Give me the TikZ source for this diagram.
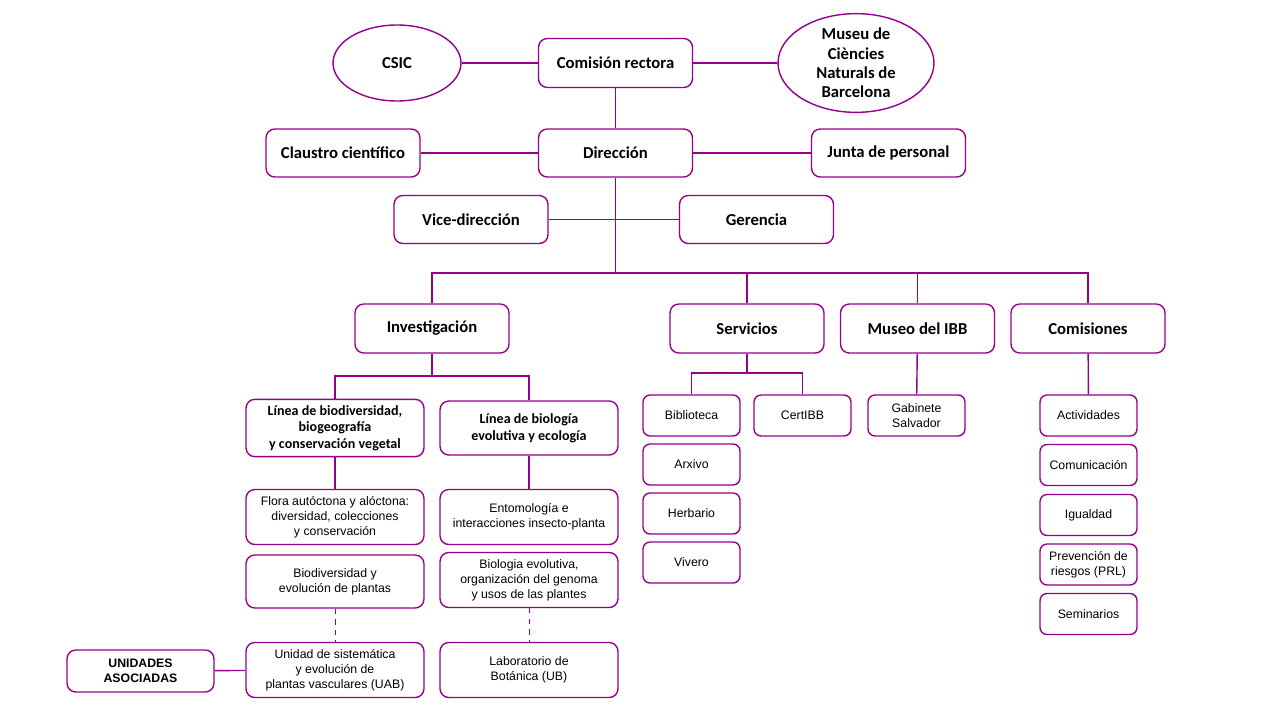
\documentclass[tikz,border=0pt]{standalone}
\usepackage{fontspec}
\setmainfont{Carlito}
\newfontfamily\arialf{Liberation Sans}
\usetikzlibrary{shapes.geometric}
\definecolor{ibbpurple}{RGB}{150,0,140}
\tikzset{
  main/.style={draw=ibbpurple,thick,rounded corners=5pt,fill=white,minimum width=3.08cm,minimum height=0.98cm,font=\fontsize{9.5}{11}\selectfont\bfseries,align=center},
  lbox/.style={draw=ibbpurple,thick,rounded corners=5pt,fill=white,minimum width=3.56cm,minimum height=1.1cm,font=\arialf\fontsize{7}{8.5}\selectfont,align=center},
  sbox/.style={draw=ibbpurple,thick,rounded corners=4pt,fill=white,minimum width=1.94cm,minimum height=0.82cm,font=\arialf\fontsize{7}{8.5}\selectfont,align=center},
  oval/.style={draw=ibbpurple,thick,ellipse,fill=white,font=\fontsize{9.5}{11}\selectfont\bfseries,align=center,inner sep=0pt},
  conn/.style={draw=ibbpurple,thick}
}
\begin{document}
\begin{tikzpicture}[x=0.02cm,y=-0.02cm]
\useasboundingbox (0,0) rectangle (1280,720);
% top levels
\node[oval,minimum width=2.56cm,minimum height=1.52cm] (csic) at (397,63) {CSIC};
\node[main] (comision) at (615.5,63) {Comisión rectora};
\node[oval,minimum width=3.12cm,minimum height=1.84cm] (museu) at (856,63) {Museu de\\Ciències\\Naturals de\\Barcelona};
\node[main,minimum height=0.96cm] (claustro) at (343,153) {Claustro científico};
\node[main,minimum height=0.96cm] (direccion) at (615.5,153) {Dirección};
\node[main,minimum height=0.96cm] (junta) at (888.5,153) {Junta de personal};
\node[main,minimum height=0.96cm] (vice) at (471,219.5) {Vice-dirección};
\node[main,minimum height=0.96cm] (gerencia) at (756.5,219.5) {Gerencia};
\draw[conn] (csic) -- (comision) -- (museu);
\draw[conn] (claustro) -- (direccion) -- (junta);
\draw[conn] (comision) -- (direccion);
\draw[conn] (vice) -- (gerencia);
% second level
\node[main] (invest) at (432,328.5) {Investigación};
\node[main] (servicios) at (747,328.5) {Servicios};
\node[main] (museo) at (917.5,328.5) {Museo del IBB};
\node[main] (comisiones) at (1088,328.5) {Comisiones};
\coordinate (bus) at (615.5,273);
\draw[conn] (direccion) -- (bus);
\draw[conn] (invest) |- (bus) -| (comisiones);
\draw[conn] (servicios) |- (bus);
\draw[conn] (museo) |- (bus);
% research lines
\node[main,minimum width=3.56cm,minimum height=1.08cm,font=\fontsize{8}{9.5}\selectfont\bfseries] (linea1) at (335,428) {Línea de biodiversidad,\\biogeografía\\y conservación vegetal};
\node[main,minimum width=3.56cm,minimum height=1.08cm,font=\fontsize{8}{9.5}\selectfont\bfseries] (linea2) at (529,428) {Línea de biología\\evolutiva y ecología};
\coordinate (ibus) at (432,376);
\draw[conn] (invest) -- (ibus);
\draw[conn] (linea1) |- (ibus) -| (linea2);
\node[lbox] (flora) at (335,517) {Flora autóctona y alóctona:\\diversidad, colecciones\\y conservación};
\node[lbox,minimum height=1.06cm] (biodiv) at (335,581.5) {Biodiversidad y\\evolución de plantas};
\node[lbox] (unidad) at (335,670) {Unidad de sistemática\\y evolución de\\plantas vasculares (UAB)};
\node[lbox] (ento) at (529,517) {Entomología e\\interacciones insecto-planta};
\node[lbox] (bioevol) at (529,580) {Biologia evolutiva,\\organización del genoma\\y usos de las plantes};
\node[lbox] (lab) at (529,670) {Laboratorio de\\Botánica (UB)};
\node[main,minimum width=2.94cm,minimum height=0.84cm,font=\arialf\fontsize{7}{8.5}\selectfont\bfseries] (asoc) at (140.5,671) {UNIDADES\\ASOCIADAS};
\draw[conn] (linea1) -- (flora);
\draw[conn] (linea2) -- (ento);
\draw[conn,dashed,thin] (biodiv) -- (unidad);
\draw[conn,dashed,thin] (bioevol) -- (lab);
\draw[conn] (asoc) -- (unidad);
% services
\node[sbox] (biblio) at (691.5,415.5) {Biblioteca};
\node[sbox] (cert) at (802.5,415.5) {CertIBB};
\node[sbox] (arxivo) at (691.5,464.5) {Arxivo};
\node[sbox] (herbario) at (691.5,513.5) {Herbario};
\node[sbox] (vivero) at (691.5,562.5) {Vivero};
\coordinate (sbus) at (747,373);
\draw[conn] (servicios) -- (sbus);
\draw[conn] (biblio) |- (sbus) -| (cert);
% museum
\node[sbox] (gabinete) at (916.5,415.5) {Gabinete\\Salvador};
\draw[conn] (museo) -- (gabinete);
% commissions
\node[sbox] (activ) at (1088.5,415.5) {Actividades};
\node[sbox] (comun) at (1088.5,465) {Comunicación};
\node[sbox] (igual) at (1088.5,515) {Igualdad};
\node[sbox] (prl) at (1088.5,564.5) {Prevención de\\riesgos (PRL)};
\node[sbox] (semin) at (1088.5,614) {Seminarios};
\draw[conn] (comisiones) -- (activ);
\end{tikzpicture}
\end{document}
